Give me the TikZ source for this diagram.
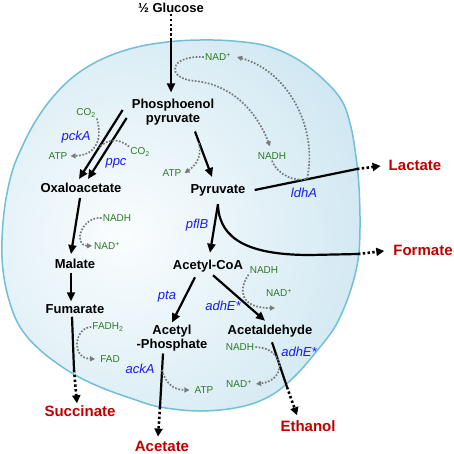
\documentclass[tikz,border=0pt]{standalone}
\usepackage{fontspec}
\setmainfont{Liberation Sans}
\usetikzlibrary{arrows.meta}
\definecolor{cellline}{HTML}{72BFD6}
\definecolor{cellblue}{HTML}{C4E1EE}
\definecolor{cellpale}{HTML}{FAFDFE}
\definecolor{enzblue}{HTML}{1A1AF0}
\definecolor{prodred}{HTML}{C00000}
\definecolor{cofgreen}{HTML}{2E7A23}
\definecolor{sidegray}{HTML}{7A7A7A}

\def\cellpath{plot[smooth cycle, tension=0.6] coordinates {
      (200,40) (233,41) (267,46) (297,59) (323,79) (342,101) (351,127) (356,157)
      (359,187) (360,227) (358,260) (350,292) (336,325) (316,352) (294,377) (270,396)
      (240,407) (200,411) (160,407) (133,399) (100,387) (70,372) (40,350) (20,327)
      (9,300) (3,270) (2,240) (5,205) (12,172) (22,147) (35,122) (52,98) (73,77)
      (100,60) (133,48) (167,42)}}

\begin{document}
\begin{tikzpicture}[x=1pt, y=-1pt,
    met/.style={font=\bfseries\fontsize{13}{14.5}\selectfont, align=center, inner sep=1pt},
    prod/.style={font=\bfseries\fontsize{15}{16}\selectfont, text=prodred, inner sep=1pt},
    enz/.style={font=\itshape\fontsize{13}{14}\selectfont, text=enzblue, inner sep=1pt},
    cof/.style={font=\fontsize{10}{11}\selectfont, text=cofgreen, inner sep=1pt},
    rxn/.style={line width=2.2pt, -{Triangle[length=9pt,width=8pt]}},
    rxnline/.style={line width=2.2pt},
    export/.style={line width=2.6pt, dash pattern=on 2.4pt off 2.4pt, -{Triangle[length=8pt,width=8pt]}},
    side/.style={sidegray, line width=1.7pt, dash pattern=on 1.7pt off 1.6pt},
    sidearr/.style={side, -{Triangle[length=5pt,width=5pt]}}
  ]
  \useasboundingbox (0,0) rectangle (454,453);

  % cell
  \fill[cellblue] \cellpath;
  \begin{scope}
    \clip \cellpath;
    \shade[inner color=cellpale, outer color=cellblue] (125,235) circle (330);
  \end{scope}
  \draw[cellline, line width=1.5pt] \cellpath;

  % metabolites
  \node[met] (glc)   at (171,8)   {½ Glucose};
  \node[met] (pep)   at (173,112) {Phosphoenol\\pyruvate};
  \node[met] (oaa)   at (81,188)  {Oxaloacetate};
  \node[met] (pyr)   at (218,190) {Pyruvate};
  \node[met] (mal)   at (75,264)  {Malate};
  \node[met] (fum)   at (75,309)  {Fumarate};
  \node[met] (acoa)  at (208,266) {Acetyl-CoA};
  \node[met] (acp)   at (172,338) {Acetyl\\-Phosphate};
  \node[met] (acald) at (270,331) {Acetaldehyde};

  % products
  \node[prod] (lac) at (415,165) {Lactate};
  \node[prod] (for) at (423,250) {Formate};
  \node[prod] (suc) at (80,411)  {Succinate};
  \node[prod] (ace) at (162,446) {Acetate};
  \node[prod] (eth) at (308,426) {Ethanol};

  % enzymes
  \node[enz] (pckA)  at (76,137)  {pckA};
  \node[enz] (ppc)   at (116,163) {ppc};
  \node[enz] (pflB)  at (197,225) {pflB};
  \node[enz] (ldhA)  at (304,193) {ldhA};
  \node[enz] (pta)   at (167,297) {pta};
  \node[enz] (adhE1) at (223,306) {adhE*};
  \node[enz] (adhE2) at (299,352) {adhE*};
  \node[enz] (ackA)  at (140,369) {ackA};

  % cofactors
  \node[cof] (nadTop)   at (218,57)  {NAD\textsuperscript{+}};
  \node[cof] (nadhLdh)  at (272,156) {NADH};
  \node[cof] (co2Pck)   at (86,113)  {CO\textsubscript{2}};
  \node[cof] (atpPck)   at (58,156)  {ATP};
  \node[cof] (co2Ppc)   at (140,152) {CO\textsubscript{2}};
  \node[cof] (atpPyk)   at (172,173) {ATP};
  \node[cof] (nadhMdh)  at (117,218) {NADH};
  \node[cof] (nadMdh)   at (107,246) {NAD\textsuperscript{+}};
  \node[cof] (fadh2)    at (108,327) {FADH\textsubscript{2}};
  \node[cof] (fad)      at (110,359) {FAD};
  \node[cof] (atpAck)   at (204,390) {ATP};
  \node[cof] (nadhAdh1) at (264,270) {NADH};
  \node[cof] (nadAdh1)  at (279,293) {NAD\textsuperscript{+}};
  \node[cof] (nadhAdh2) at (240,347) {NADH};
  \node[cof] (nadAdh2)  at (239,384) {NAD\textsuperscript{+}};

  % membrane crossings and joins
  \coordinate (glcmem) at (171,40);
  \coordinate (lacmem) at (357,169);
  \coordinate (formem) at (358,254);
  \coordinate (sucmem) at (74,370);
  \coordinate (acemem) at (160,407);
  \coordinate (ethmem) at (287,387);
  \coordinate (ldhjoin) at (307,179);
  \coordinate (ppcjoin) at (99,148);
  \coordinate (pykjoin) at (199,143);
  \coordinate (ackjoin) at (162,370);

  % reactions
  \draw[export, -] (glc.south) -- (glcmem);
  \draw[rxn, shorten >=5pt] (glcmem) -- (glcmem |- pep.north);
  \draw[rxn] ([shift={(-8,-2)}]pep.west) -- ([shift={(-2,-3)}]oaa.north);
  \draw[rxn] ([shift={(-4,6)}]pep.west) -- ([shift={(7,-3)}]oaa.north);
  \draw[rxn] ([shift={(22,5)}]pep.south) -- ([shift={(-6,-6)}]pyr.north);
  \draw[rxn] ([shift={(0,7)}]pyr.south) -- ([shift={(2,-6)}]acoa.north);
  \draw[rxnline] ([shift={(0,9)}]pyr.south) .. controls (220,240) and (250,255) .. (310,255) -- (formem);
  \draw[export, shorten >=8pt] (formem) -- (for.west);
  \draw[rxnline] ([shift={(8,0)}]pyr.east) -- (lacmem);
  \draw[export, shorten >=7pt] (lacmem) -- (lac.west);
  \draw[rxn] ([shift={(-1,4)}]oaa.south) -- ([shift={(-4,-4)}]mal.north);
  \draw[rxn] ([shift={(-4,3)}]mal.south) -- ([shift={(-4,-2)}]fum.north);
  \draw[rxnline] ([shift={(-3,2)}]fum.south) -- (sucmem);
  \draw[export] (sucmem) -- ([shift={(-3,-1)}]suc.north);
  \draw[rxn] ([shift={(-13,4)}]acoa.south) -- ([shift={(0,-1)}]acp.north);
  \draw[rxn] ([shift={(5,2)}]acoa.south) -- ([shift={(-5,-3)}]acald.north);
  \draw[rxnline] ([shift={(-9,1)}]acp.south) -- (acemem);
  \draw[export] (acemem) -- ([shift={(-4,-3)}]ace.north);
  \draw[rxnline] ([shift={(2,4)}]acald.south) -- (ethmem);
  \draw[export] (ethmem) -- ([shift={(-11,-4)}]eth.north);

  % cofactor loops
  \draw[sidearr] (nadTop.west) .. controls (168,55) and (166,79) .. (195,81)
    .. controls (235,85) and (258,115) .. ([shift={(-2,-5)}]nadhLdh.north);
  \draw[sidearr] (nadhLdh.south) .. controls (278,176) and (296,182) .. (ldhjoin)
    .. controls (318,130) and (290,72) .. ([xshift=5pt]nadTop.east);
  \draw[sidearr] (co2Pck.south east) .. controls (102,138) and (98,155) .. ([xshift=2pt]atpPck.east);
  \draw[side] (co2Ppc.north west) .. controls (118,137) and (105,140) .. (ppcjoin);
  \draw[sidearr] (pykjoin) .. controls (202,158) and (195,166) .. ([xshift=2pt]atpPyk.east);
  \draw[sidearr] (nadhMdh.west) .. controls (82,216) and (72,245) .. ([xshift=-1pt]nadMdh.west);
  \draw[sidearr] (fadh2.west) .. controls (75,327) and (70,358) .. ([xshift=-4pt]fad.west);
  \draw[sidearr] (ackjoin) .. controls (166,385) and (175,390) .. ([xshift=-4pt]atpAck.west);
  \draw[sidearr] (nadhAdh1.south west) .. controls (238,290) and (240,308) .. ([shift={(-4,10)}]nadAdh1.south);
  \draw[sidearr] (nadhAdh2.east) .. controls (285,348) and (288,380) .. ([xshift=3pt]nadAdh2.east);
\end{tikzpicture}
\end{document}
